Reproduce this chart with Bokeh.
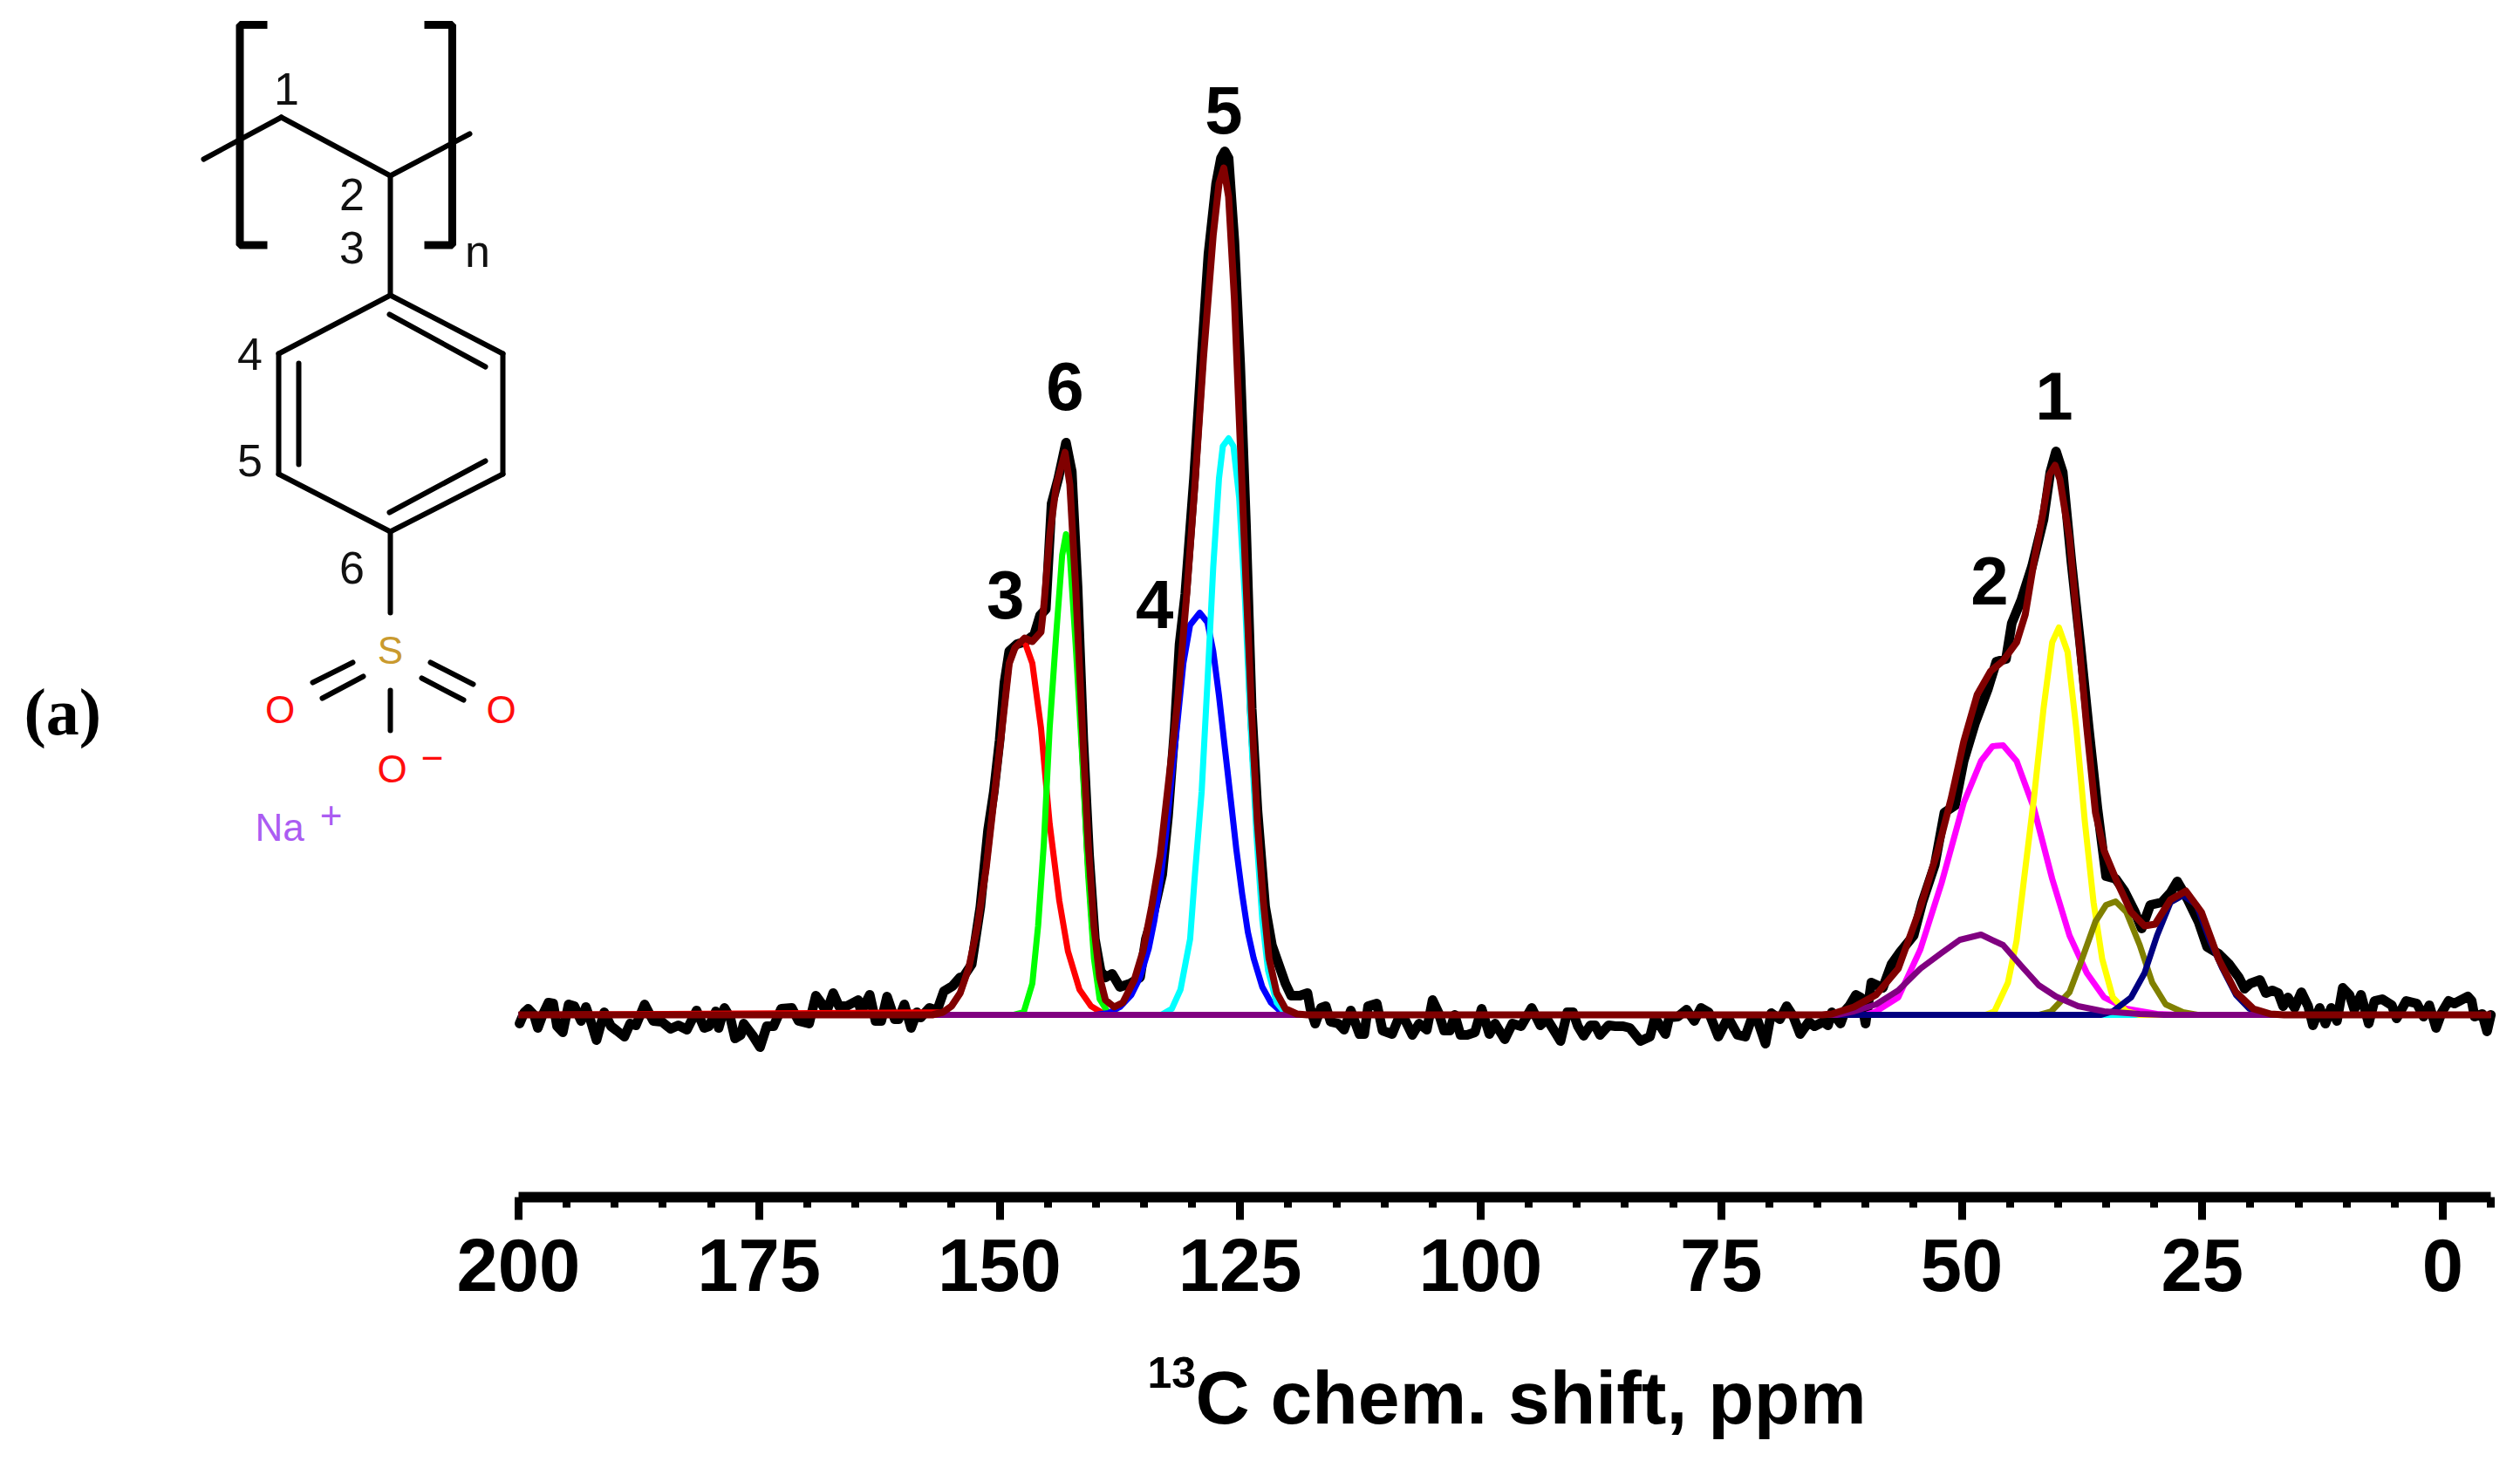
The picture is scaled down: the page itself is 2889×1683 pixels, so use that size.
from bokeh.plotting import figure
from bokeh.models import LinearAxis, FixedTicker, Label, Range1d
from bokeh.embed import file_html
from bokeh.resources import INLINE

# ---------- data: chemical shift (ppm) and intensity (a.u.) ----------
tick_major = [200, 175, 150, 125, 100, 75, 50, 25, 0]
tick_minor = [195, 190, 185, 180, 170, 165, 160, 155, 145, 140, 135, 130, 120, 115, 110, 105,
              95, 90, 85, 80, 70, 65, 60, 55, 45, 40, 35, 30, 20, 15, 10, 5, -5]

peak_names = ["1", "2", "3", "4", "5", "6"]
peak_ppm = [40.4, 47.1, 149.4, 133.9, 126.7, 143.2]
peak_int = [682, 470, 454, 443, 1010, 693]

exp_ppm = [199.9,199.4,199.0,198.4,198.0,197.5,196.9,196.4,196.0,195.4,194.8,194.2,193.5,193.0,192.5,191.9,191.1,190.4,189.8,189.0,
 188.4,187.8,186.9,186.0,185.1,184.2,183.4,182.5,181.5,180.7,180.2,179.5,179.2,178.6,178.0,177.5,176.9,176.6,175.7,174.9,
 174.2,173.5,172.7,171.6,170.9,169.8,169.1,168.5,168.0,167.3,166.7,165.9,164.7,164.4,163.5,162.9,162.3,161.7,160.9,160.5,
 159.9,159.2,158.6,158.2,157.3,156.5,155.8,154.9,154.1,153.8,152.9,152.0,151.2,150.6,150.0,149.5,149.0,148.2,147.3,146.4,
 145.8,145.2,144.6,143.9,143.1,142.5,141.9,141.3,140.7,140.1,139.5,139.0,138.3,137.5,136.4,135.4,134.8,134.0,133.1,132.5,
 131.8,131.3,130.7,129.8,129.0,128.3,127.5,127.0,126.6,126.2,125.6,125.0,124.4,123.8,123.2,122.4,121.7,121.0,120.3,119.7,
 118.8,118.0,117.7,117.2,116.6,116.1,115.6,114.8,114.2,113.5,112.6,112.1,111.7,110.8,110.2,109.2,108.5,107.9,107.1,106.4,
 105.6,105.0,104.4,103.8,103.2,102.7,102.1,101.4,100.6,99.9,99.1,98.5,97.5,96.7,95.8,94.7,93.8,93.1,91.7,91.0,
 90.4,89.9,89.3,88.6,88.1,87.6,86.7,86.0,85.2,84.5,83.4,82.4,81.9,80.8,80.4,79.5,78.6,77.8,77.1,76.3,
 75.3,74.3,73.3,72.5,71.8,71.2,70.4,69.8,68.9,68.2,67.5,66.8,65.9,65.3,64.4,63.9,63.5,62.6,62.1,61.7,
 61.0,60.5,60.0,59.4,58.2,57.3,56.4,55.0,54.1,52.8,51.8,50.7,49.8,48.6,47.3,46.4,45.4,44.8,43.8,42.7,
 41.5,40.8,40.2,39.5,38.6,37.7,36.8,35.9,35.0,34.0,33.1,32.0,31.3,30.4,29.2,28.3,27.6,26.5,25.4,24.5,
 23.3,22.2,21.2,20.6,20.0,19.0,18.4,17.7,17.1,16.6,16.1,15.4,14.7,14.0,13.5,12.8,12.2,11.6,11.0,10.4,
 9.7,9.2,8.5,7.7,7.1,6.3,5.3,4.8,3.8,2.7,2.0,1.4,0.7,0.1,-0.6,-1.2,-2.6,-3.0,-3.3,-4.1,-4.6,-5.0]
exp_int = [-10,3,7,0,-15,0,14,13,-13,-20,12,10,-7,9,-7,-29,3,-13,-18,-25,
 -10,-12,12,-7,-8,-16,-12,-17,5,-15,-13,4,-15,8,-3,-27,-23,-10,-23,-37,
 -13,-13,7,8,-7,-10,22,13,3,25,10,10,17,3,23,-7,-7,21,-5,-5,
 12,-15,3,-3,8,5,27,33,43,43,58,124,212,256,315,381,417,425,428,436,
 458,465,586,615,656,623,491,315,183,87,50,43,47,32,36,43,87,117,161,227,
 329,425,483,615,755,872,953,982,990,982,887,747,564,351,234,124,80,58,36,22,
 22,25,7,-10,8,10,-8,-10,-17,5,-22,-22,10,13,-18,-22,-3,-5,-23,-10,
 -17,17,3,-18,-18,0,-23,-23,-20,7,-22,-10,-28,-10,-13,8,-12,-5,-30,3,
 3,-13,-24,-12,-12,-23,-12,-13,-13,-15,-30,-25,-3,-22,-3,-2,6,-7,8,3,
 -25,-3,-23,-25,-3,-7,-33,2,-5,10,-2,-22,-8,-13,-8,-12,3,-10,5,10,
 23,20,-10,37,31,58,72,91,129,172,232,240,291,335,373,405,408,449,476,514,
 568,622,646,622,519,427,329,237,159,156,142,118,99,126,129,140,153,132,107,78,
 70,58,43,30,36,40,25,28,25,10,20,8,26,10,-12,8,-10,8,-7,31,
 23,6,23,-10,16,18,11,-4,16,13,-2,11,-15,3,16,13,21,16,-2,1,-19,0]

red_ppm = [200,155.9,155.0,154.1,153.2,152.3,151.4,150.5,149.6,149.0,148.4,147.5,146.6,145.7,144.8,143.8,142.9,141.7,140.5,139.3,138.0,-5]
red_int = [0,3,10,25,54,102,168,256,343,403,421,431,403,329,219,131,73,29,10,2,0,0]

green_ppm = [200,148.5,147.5,146.6,146.0,145.4,144.8,144.1,143.5,143.1,142.7,142.1,141.4,140.8,140.2,139.6,138.7,137.5,-5]
green_int = [0,0,3,36,102,197,329,439,527,551,527,425,293,161,65,18,2,0,0]

blue_ppm = [200,140.0,138.7,137.5,136.3,135.4,134.5,133.9,133.3,132.7,132.1,131.5,130.9,130.2,129.2,128.4,127.8,127.2,126.6,126.0,125.4,124.8,124.2,123.6,122.7,121.8,120.6,119.5,-5]
blue_int = [0,0,2,9,23,43,76,109,153,208,274,337,403,447,461,450,417,366,307,249,190,139,95,65,32,14,2,0,0]

cyan_ppm = [200,133.2,132.1,131.2,130.2,129.7,129.0,128.4,127.8,127.2,126.8,126.2,125.7,125.1,124.5,123.9,123.3,122.7,122.1,121.2,120.3,119.3,-5]
cyan_int = [0,0,7,29,87,161,256,381,513,615,652,661,652,593,476,329,205,109,51,14,2,0,0]

magenta_ppm = [200,60.0,58.9,56.6,54.3,52.1,49.8,48.0,46.8,45.7,44.3,42.5,40.6,38.8,37.0,35.2,32.9,29.7,27.5,-5]
magenta_int = [0,0,4,20,75,151,243,291,308,309,291,237,156,91,48,20,7,1,0,0]

yellow_ppm = [200,47.5,46.6,45.2,44.3,43.4,42.5,41.5,40.6,39.9,39.0,38.1,37.2,36.3,35.4,34.3,32.9,31.5,-5]
yellow_int = [0,0,4,37,85,167,248,351,427,444,416,329,221,129,64,20,4,0,0]

olive_ppm = [200,42.0,40.7,38.8,37.5,36.1,35.0,34.0,32.9,31.5,30.2,28.8,27.0,25.5,-5]
olive_int = [0,0,4,26,64,107,126,130,118,80,37,12,3,0,0]

navy_ppm = [200,35.5,34.3,32.4,31.0,29.7,28.3,27.0,25.6,24.2,22.9,21.5,20.1,18.3,17.0,-5]
navy_int = [0,0,4,20,48,91,129,137,126,85,53,23,7,1,0,0]

purple_ppm = [200,63.0,61.2,58.9,56.6,54.3,52.1,50.2,48.0,45.7,43.8,42.0,40.2,37.9,35.2,31.5,29.0,-5]
purple_int = [0,0,4,12,28,53,71,86,92,80,56,34,21,10,4,1,0,0]

fit_ppm = [200,157.0,155.9,155.0,154.1,153.2,152.3,151.4,150.5,149.6,149.0,148.4,147.4,146.6,145.7,145.4,144.8,144.1,143.2,142.7,142.1,141.4,140.8,140.2,139.6,139.0,138.1,137.2,136.0,135.1,134.2,133.3,132.4,131.5,130.6,129.7,128.8,127.8,127.2,126.7,126.2,125.6,125.0,124.4,123.8,123.2,122.6,122.0,121.2,120.3,119.1,118.0,
 64.5,63.5,61.2,58.9,56.6,54.3,52.5,51.1,49.8,48.4,47.0,45.7,44.3,43.4,42.5,41.5,40.9,40.3,39.8,38.8,37.9,37.0,36.1,35.2,33.8,32.4,31.0,29.9,28.3,26.7,25.1,23.3,21.5,19.7,17.9,16.5,-5]
fit_int = [0,0,3,10,25,54,102,168,256,343,403,421,432,428,439,469,549,608,645,608,491,329,197,102,43,17,9,14,40,73,124,183,271,359,476,608,755,894,953,971,938,821,659,498,344,219,131,65,25,7,1,0,
 0,1,9,23,53,123,188,248,313,367,394,406,427,459,519,579,619,630,614,546,438,329,232,188,151,118,102,104,132,142,118,64,26,7,1,0,0]

# ---------- page geometry ----------
W, H = 2873, 1667
PX0, PPM_PX = 2800.0, 11.03   # image x of 0 ppm, pixels per ppm
BASE = 1163.0                 # image y of zero intensity
LIFT = 0.36                   # Label baseline correction, in font sizes


def X(px):
    return (PX0 - px) / PPM_PX


def Y(py):
    return BASE - py


p = figure(width=W, height=H, output_backend="svg", toolbar_location=None,
           x_range=Range1d(X(0), X(W)), y_range=Range1d(Y(H), Y(0)),
           x_axis_location=None, y_axis_location=None, min_border=0,
           background_fill_color="white", border_fill_color="white", outline_line_color=None)
p.grid.visible = False

axis = LinearAxis(fixed_location=Y(1371.5), bounds=(-5, 200),
                  ticker=FixedTicker(ticks=tick_major, minor_ticks=tick_minor))
axis.axis_line_width = 12
axis.axis_line_color = "black"
axis.major_tick_line_width = 9
axis.major_tick_line_color = "black"
axis.minor_tick_line_width = 9
axis.minor_tick_line_color = "black"
axis.major_tick_in = 0
axis.minor_tick_in = 0
axis.major_tick_out = 26
axis.minor_tick_out = 12
axis.major_label_text_font = "Liberation Sans"
axis.major_label_text_font_style = "bold"
axis.major_label_text_font_size = "85px"
axis.major_label_text_color = "black"
axis.major_label_standoff = 23
p.add_layout(axis, "below")

# spectrum and fit
p.line(exp_ppm, exp_int, line_color="black", line_width=11, line_join="round", line_cap="round")
comp_style = [(red_ppm, red_int, "#FF0000"), (green_ppm, green_int, "#00FF00"),
              (blue_ppm, blue_int, "#0000FF"), (cyan_ppm, cyan_int, "#00FFFF"),
              (magenta_ppm, magenta_int, "#FF00FF"), (yellow_ppm, yellow_int, "#FFFF00"),
              (olive_ppm, olive_int, "#808000"), (navy_ppm, navy_int, "#000080"),
              (purple_ppm, purple_int, "#800080")]
for xs, ys, col in comp_style:
    p.line(xs, ys, line_color=col, line_width=7, line_join="round")
p.line(fit_ppm, fit_int, line_color="#800000", line_width=8, line_join="round")


def txt(s, px, py, size, color="black", bold=False, align="left", font="Liberation Sans"):
    p.add_layout(Label(x=X(px), y=Y(py), y_offset=round(LIFT * size), text=s, text_font=font,
                       text_font_size=f"{size}px",
                       text_font_style="bold" if bold else "normal", text_color=color,
                       text_align=align, text_baseline="alphabetic"))


# peak numbers
for name, xv, yv in zip(peak_names, peak_ppm, peak_int):
    p.add_layout(Label(x=xv, y=yv, y_offset=round(LIFT * 78), text=name, text_font="Liberation Sans",
                       text_font_size="78px", text_font_style="bold", text_color="black",
                       text_align="center", text_baseline="alphabetic"))

# axis title
txt("13", 1315, 1591, 50, bold=True)
txt("C chem. shift, ppm", 1370, 1632, 86, bold=True)

# panel letter
txt("(a)", 27, 842, 76, bold=True, font="Liberation Serif")

# structure drawing
bonds = [((233, 182), (322, 134)), ((322, 134), (447, 201)), ((447, 201), (538, 153)),
         ((447, 201), (447, 338)), ((447, 338), (576, 405)), ((576, 405), (576, 543)),
         ((576, 543), (447, 609)), ((447, 609), (319, 543)), ((319, 543), (319, 405)),
         ((319, 405), (447, 338)), ((446, 360), (556, 420)), ((446, 587), (556, 528)),
         ((342, 416), (342, 532)), ((447, 609), (447, 702)), ((404, 759), (358, 782)),
         ((416, 775), (369, 800)), ((493, 759), (542, 784)), ((483, 777), (531, 802)),
         ((447, 791), (447, 837))]
p.segment([X(a[0]) for a, b in bonds], [Y(a[1]) for a, b in bonds],
          [X(b[0]) for a, b in bonds], [Y(b[1]) for a, b in bonds],
          line_color="black", line_width=6, line_cap="round")
brackets = [[(306, 28), (274.5, 28), (274.5, 280.5), (306, 280.5)],
            [(486, 28), (518, 28), (518, 280.5), (486, 280.5)]]
for b in brackets:
    p.line([X(q[0]) for q in b], [Y(q[1]) for q in b], line_color="black", line_width=9)

for s, px, py in [("1", 328, 120), ("2", 403, 241), ("3", 403, 302), ("4", 286, 424),
                  ("5", 286, 546), ("6", 403, 669)]:
    txt(s, px, py, 52, color="#111111", align="center")
txt("n", 547, 306, 52, color="#111111", align="center")
txt("S", 447, 761, 44, color="#C99A2E", align="center")
for px, py in [(320.5, 829), (574, 829), (449, 897)]:
    txt("O", px, py, 44, color="#FF0D0D", align="center")
txt("\u2212", 495, 884, 44, color="#FF0D0D", align="center")
txt("Na", 320, 964, 44, color="#AB5CF2", align="center")
txt("+", 379, 950, 44, color="#AB5CF2", align="center")

open("out.html", "w").write(file_html(p, INLINE))
